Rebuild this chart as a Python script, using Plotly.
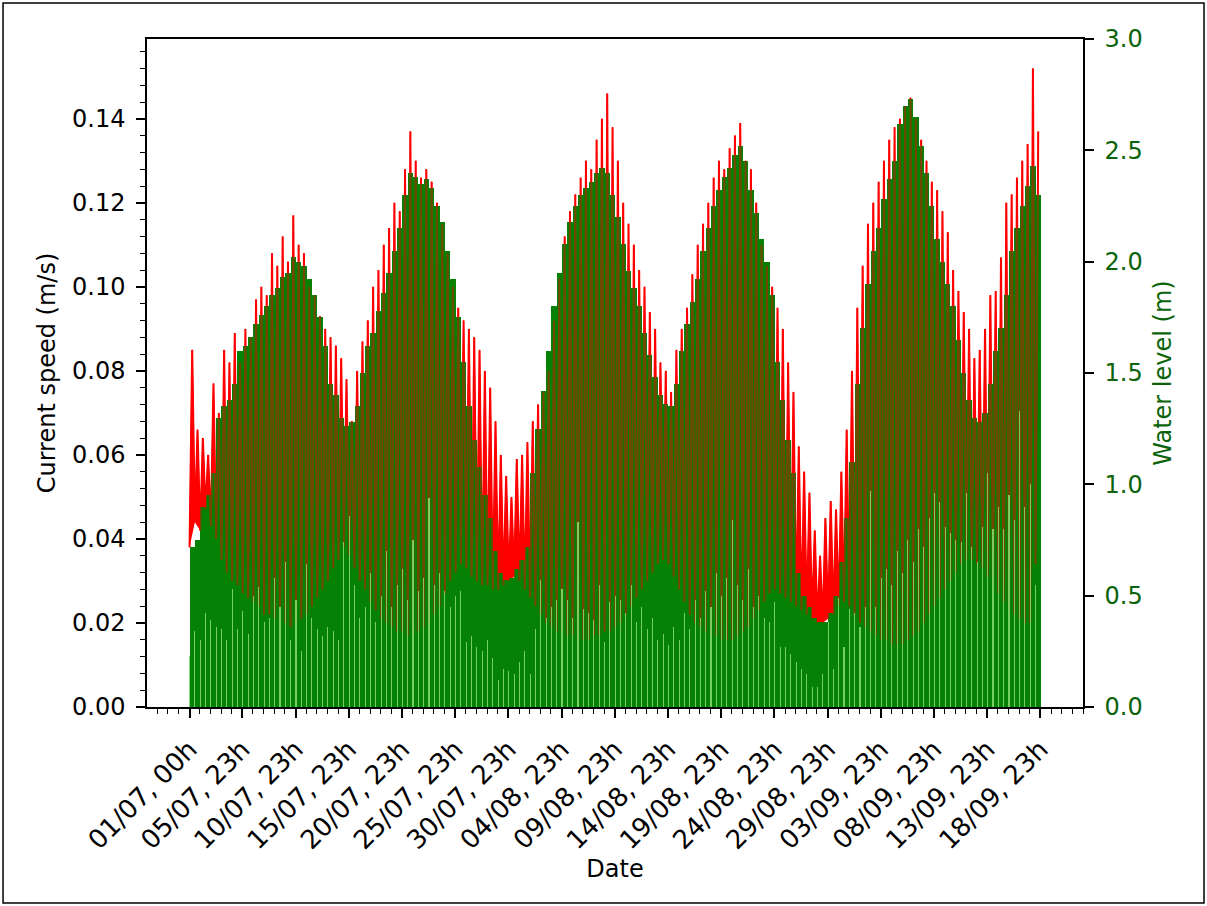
import pandas as pd
import plotly.graph_objects as go

# ---------------- data ----------------
# x tick labels (day/month, hour)
tick_labels = ["01/07, 00h", "05/07, 23h", "10/07, 23h", "15/07, 23h", "20/07, 23h",
               "25/07, 23h", "30/07, 23h", "04/08, 23h", "09/08, 23h", "14/08, 23h",
               "19/08, 23h", "24/08, 23h", "29/08, 23h", "03/09, 23h", "08/09, 23h",
               "13/09, 23h", "18/09, 23h"]

# current speed (m/s) at each peak flow (one value per tide, 12 h apart)
speed_high = [
    0.085, 0.066, 0.064, 0.060, 0.077, 0.070, 0.085, 0.082, 0.089, 0.082,
    0.090, 0.088, 0.097, 0.100, 0.098, 0.108, 0.105, 0.112, 0.106, 0.117,
    0.110, 0.108, 0.100, 0.098, 0.093, 0.090, 0.088, 0.086, 0.083, 0.078,
    0.068, 0.080, 0.087, 0.092, 0.100, 0.104, 0.110, 0.114, 0.120, 0.118,
    0.128, 0.137, 0.130, 0.126, 0.128, 0.125, 0.120, 0.115, 0.108, 0.100,
    0.095, 0.092, 0.090, 0.088, 0.085, 0.080, 0.076, 0.068, 0.060, 0.055,
    0.050, 0.059, 0.060, 0.063, 0.068, 0.072, 0.075, 0.080, 0.092, 0.102,
    0.112, 0.118, 0.122, 0.126, 0.130, 0.128, 0.135, 0.140, 0.146, 0.138,
    0.130, 0.120, 0.115, 0.110, 0.104, 0.100, 0.094, 0.090, 0.082, 0.080,
    0.075, 0.085, 0.090, 0.095, 0.103, 0.110, 0.115, 0.120, 0.126, 0.130,
    0.128, 0.133, 0.136, 0.139, 0.130, 0.128, 0.120, 0.110, 0.105, 0.100,
    0.095, 0.090, 0.082, 0.075, 0.062, 0.056, 0.051, 0.042, 0.036, 0.045,
    0.049, 0.047, 0.056, 0.066, 0.080, 0.095, 0.105, 0.115, 0.120, 0.125,
    0.130, 0.135, 0.138, 0.140, 0.143, 0.145, 0.140, 0.135, 0.130, 0.125,
    0.123, 0.118, 0.113, 0.104, 0.099, 0.094, 0.090, 0.083, 0.085, 0.090,
    0.098, 0.099, 0.107, 0.120, 0.122, 0.126, 0.130, 0.134, 0.152, 0.137,
]

# current speed (m/s) at slack water (one value per tide)
speed_low = [
    0.038, 0.044, 0.042, 0.047, 0.043, 0.040, 0.035, 0.032, 0.030, 0.029,
    0.027, 0.026, 0.025, 0.024, 0.022, 0.022, 0.021, 0.020, 0.020, 0.019,
    0.020, 0.021, 0.022, 0.024, 0.026, 0.028, 0.030, 0.033, 0.035, 0.038,
    0.036, 0.033, 0.030, 0.028, 0.025, 0.023, 0.021, 0.020, 0.019, 0.018,
    0.018, 0.017, 0.018, 0.018, 0.019, 0.020, 0.022, 0.024, 0.027, 0.030,
    0.032, 0.034, 0.033, 0.031, 0.030, 0.029, 0.029, 0.028, 0.028, 0.029,
    0.030, 0.031, 0.030, 0.028, 0.026, 0.024, 0.022, 0.020, 0.019, 0.018,
    0.018, 0.017, 0.017, 0.016, 0.016, 0.016, 0.017, 0.017, 0.018, 0.018,
    0.019, 0.020, 0.022, 0.024, 0.026, 0.028, 0.030, 0.032, 0.034, 0.035,
    0.034, 0.031, 0.028, 0.025, 0.022, 0.020, 0.019, 0.018, 0.017, 0.017,
    0.016, 0.016, 0.016, 0.017, 0.018, 0.019, 0.021, 0.023, 0.025, 0.027,
    0.028, 0.027, 0.026, 0.025, 0.024, 0.023, 0.022, 0.021, 0.020, 0.020,
    0.021, 0.022, 0.024, 0.025, 0.024, 0.022, 0.020, 0.019, 0.018, 0.017,
    0.016, 0.016, 0.015, 0.015, 0.015, 0.016, 0.017, 0.018, 0.020, 0.022,
    0.024, 0.026, 0.028, 0.030, 0.032, 0.034, 0.035, 0.035, 0.034, 0.033,
    0.031, 0.029, 0.027, 0.025, 0.023, 0.022, 0.021, 0.020, 0.020, 0.034,
]

# water level (m) at high water (one value per tide)
level_high = [
    0.72, 0.75, 0.90, 0.95, 1.05, 1.30, 1.35, 1.38, 1.45, 1.60,
    1.62, 1.66, 1.72, 1.76, 1.80, 1.85, 1.88, 1.93, 1.95, 2.02,
    2.00, 1.98, 1.92, 1.85, 1.75, 1.62, 1.45, 1.40, 1.30, 1.26,
    1.28, 1.35, 1.50, 1.62, 1.68, 1.78, 1.86, 1.95, 2.05, 2.15,
    2.30, 2.40, 2.38, 2.35, 2.37, 2.33, 2.25, 2.18, 2.05, 1.92,
    1.75, 1.55, 1.35, 1.20, 1.08, 0.95, 0.85, 0.70, 0.60, 0.57,
    0.58, 0.62, 0.66, 0.72, 1.05, 1.25, 1.42, 1.60, 1.80, 1.95,
    2.08, 2.18, 2.25, 2.30, 2.33, 2.36, 2.40, 2.42, 2.40, 2.30,
    2.20, 2.08, 1.96, 1.88, 1.80, 1.68, 1.58, 1.48, 1.40, 1.36,
    1.35, 1.45, 1.60, 1.72, 1.82, 1.92, 2.05, 2.15, 2.25, 2.32,
    2.38, 2.42, 2.48, 2.52, 2.45, 2.32, 2.22, 2.10, 2.00, 1.85,
    1.55, 1.38, 1.20, 1.05, 0.60, 0.50, 0.45, 0.40, 0.38, 0.38,
    0.42, 0.50, 0.65, 0.85, 1.10, 1.45, 1.70, 1.90, 2.05, 2.15,
    2.28, 2.37, 2.45, 2.62, 2.70, 2.73, 2.65, 2.52, 2.40, 2.25,
    2.10, 2.00, 1.90, 1.80, 1.65, 1.50, 1.38, 1.30, 1.28, 1.32,
    1.45, 1.60, 1.70, 1.85, 2.05, 2.15, 2.25, 2.34, 2.43, 2.30,
]

# water level (m) at low water (one value per tide)
level_low = [
    0.23, 0.34, 0.30, 0.42, 0.39, 0.36, 0.35, 0.30, 0.53, 0.35,
    0.43, 0.33, 0.50, 0.54, 0.38, 0.40, 0.58, 0.45, 0.65, 0.30,
    0.48, 0.25, 0.64, 0.40, 0.35, 0.32, 0.36, 0.34, 0.30, 0.74,
    0.86, 0.55, 0.40, 0.45, 0.60, 0.38, 0.50, 0.70, 0.45, 0.55,
    0.62, 0.48, 0.75, 0.52, 0.58, 0.94, 0.55, 0.60, 0.52, 0.45,
    0.50, 0.52, 0.29, 0.32, 0.27, 0.25, 0.30, 0.22, 0.12, 0.17,
    0.16, 0.15, 0.20, 0.25, 0.15, 0.35, 0.57, 0.40, 0.45, 0.48,
    0.53, 0.48, 0.40, 0.83, 0.44, 0.42, 0.39, 0.55, 0.29, 0.47,
    0.50, 0.48, 0.42, 0.55, 0.38, 0.45, 0.35, 0.40, 0.30, 0.33,
    0.28, 0.36, 0.30, 0.42, 0.35, 0.48, 0.40, 0.52, 0.45, 0.60,
    0.50, 0.58, 0.84, 0.55, 0.48, 0.62, 0.45, 0.50, 0.40, 0.38,
    0.47, 0.27, 0.27, 0.24, 0.20, 0.17, 0.15, 0.09, 0.09, 0.15,
    0.38, 0.17, 0.49, 0.27, 0.44, 0.42, 0.36, 0.45, 0.97, 0.45,
    0.58, 0.62, 0.55, 0.70, 0.60, 0.75, 0.65, 0.80, 0.72, 0.85,
    0.96, 0.92, 0.81, 0.78, 0.75, 0.74, 0.96, 0.72, 0.65, 0.81,
    1.05, 0.80, 0.90, 0.80, 0.95, 0.84, 1.33, 0.90, 1.00, 0.55,
]

# ---------------- derived positions (hours since 01/07 00h) ----------------
TIDE_STEP = 12
n = len(speed_high)
t_low = [TIDE_STEP * i for i in range(n)]
t_high = [TIDE_STEP * i + TIDE_STEP // 2 for i in range(n)]

speed_x, speed_y = [], []
for i in range(n):
    speed_x += [t_low[i], t_high[i]]
    speed_y += [speed_low[i], speed_high[i]]

start = pd.Timestamp("2000-07-01 00:00")
def label_to_hour(lbl):
    d, h = lbl.split(", ")
    day, month = d.split("/")
    ts = pd.Timestamp(year=2000, month=int(month), day=int(day), hour=int(h[:-1]))
    return int((ts - start) / pd.Timedelta(hours=1))
tick_vals = [label_to_hour(l) for l in tick_labels]
t_end = tick_vals[-1]
pad = 0.05 * t_end

FONT = "DejaVu Sans"
FS = 24
FSX = 26
GREEN = "rgb(12,130,12)"
DARKGREEN = "#0b640b"

fig = go.Figure()

# layer 1 (y): solid red band of the current-speed signal
fig.add_trace(go.Scatter(x=t_low, y=speed_low, mode="lines", line=dict(color="red", width=0),
                         yaxis="y", showlegend=False, hoverinfo="skip"))
fig.add_trace(go.Scatter(x=speed_x, y=speed_y, mode="lines", line=dict(color="red", width=1),
                         fill="tonexty", fillcolor="red", yaxis="y", showlegend=False))
# layer 2 (y2): opaque water-level bars
fig.add_trace(go.Bar(x=t_high, y=level_high, width=TIDE_STEP, marker=dict(color=GREEN, line=dict(width=0)),
                     yaxis="y2", showlegend=False))
# layer 3 (y3): current speed line over the bars
fig.add_trace(go.Scatter(x=speed_x, y=speed_y, mode="lines", line=dict(color="red", width=2),
                         yaxis="y3", showlegend=False))
# layer 4 (y4): translucent water-level bars + low-water stripes
fig.add_trace(go.Bar(x=t_high, y=level_high, width=TIDE_STEP,
                     marker=dict(color="rgba(0,128,0,0.56)", line=dict(width=0)),
                     yaxis="y4", showlegend=False))
fig.add_trace(go.Bar(x=t_low, y=level_low, width=2.4,
                     marker=dict(color="rgba(130,215,110,0.9)", line=dict(width=0)),
                     yaxis="y4", showlegend=False))

axis_common = dict(showline=True, linecolor="black", linewidth=1.5, ticks="outside",
                   ticklen=9, tickwidth=1.5, tickcolor="black", showgrid=False, zeroline=False,
                   ticklabelstandoff=6)
SPEED_RANGE = [0, 0.159]
LEVEL_RANGE = [0, 3.0]

fig.update_layout(
    width=1207, height=906,
    margin=dict(l=147, r=124, t=39, b=199),
    paper_bgcolor="white", plot_bgcolor="white",
    barmode="overlay", bargap=0,
    font=dict(family=FONT, size=FS, color="black"),
    xaxis=dict(**axis_common, mirror=True, range=[-pad, t_end + pad],
               tickmode="array", tickvals=tick_vals, ticktext=tick_labels, tickangle=-45,
               tickfont=dict(size=FSX),
               minor=dict(ticks="outside", tick0=-1, dtick=24, ticklen=5, tickwidth=1.2, tickcolor="black"),
               title=dict(text="Date", standoff=4, font=dict(size=FS))),
    yaxis=dict(**axis_common, side="left", range=SPEED_RANGE, tickmode="linear",
               tick0=0, dtick=0.02, tickformat=".2f", tickfont=dict(size=FS),
               minor=dict(ticks="outside", tick0=0, dtick=0.004, ticklen=5, tickwidth=1.2, tickcolor="black"),
               title=dict(text="Current speed (m/s)", font=dict(size=FS), standoff=10)),
    yaxis2=dict(**axis_common, side="right", overlaying="y", range=LEVEL_RANGE, tickmode="linear",
                tick0=0, dtick=0.5, tickformat=".1f", tickfont=dict(color=DARKGREEN, size=FS),
                title=dict(text="Water level (m)", font=dict(color=DARKGREEN, size=FS), standoff=12)),
    yaxis3=dict(overlaying="y", range=SPEED_RANGE, visible=False),
    yaxis4=dict(overlaying="y", range=LEVEL_RANGE, visible=False),
    shapes=[dict(type="rect", xref="paper", yref="paper", x0=-0.1538, x1=1.1293, y0=-0.2934, y1=1.0539,
                 line=dict(color="black", width=1.5), fillcolor="rgba(0,0,0,0)", layer="above")],
)

fig.write_html("out.html")
